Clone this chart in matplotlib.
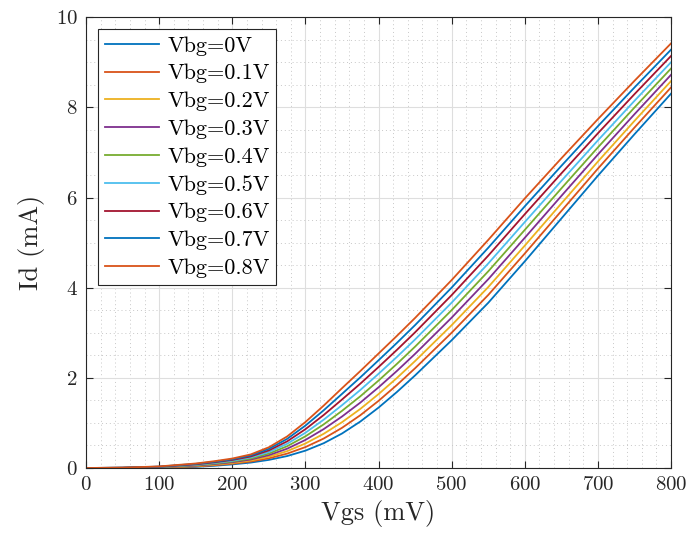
import matplotlib
matplotlib.use("Agg")
import matplotlib.pyplot as plt
from matplotlib.ticker import MultipleLocator

vgs = [0, 50, 100, 150, 175, 200, 225, 250, 275, 300, 325, 350, 375, 400,
       425, 450, 500, 550, 600, 650, 700, 750, 800]

id_vbg00 = [0, .001, .006, .025, .048, .080, .120, .180, .265, .385, .550, .765, 1.030, 1.340, 1.685, 2.055, 2.835, 3.665, 4.585, 5.535, 6.485, 7.405, 8.305]
id_vbg01 = [0, .002, .010, .034, .061, .096, .143, .215, .319, .464, .654, .891, 1.170, 1.490, 1.841, 2.214, 3.002, 3.839, 4.759, 5.702, 6.642, 7.553, 8.444]
id_vbg02 = [0, .003, .013, .044, .074, .113, .165, .250, .374, .544, .759, 1.016, 1.310, 1.640, 1.996, 2.374, 3.169, 4.014, 4.934, 5.869, 6.799, 7.701, 8.584]
id_vbg03 = [0, .004, .017, .053, .086, .129, .188, .285, .428, .623, .863, 1.142, 1.450, 1.790, 2.152, 2.533, 3.336, 4.188, 5.108, 6.036, 6.956, 7.849, 8.723]
id_vbg04 = [0, .0045, .021, .063, .099, .145, .210, .320, .483, .703, .968, 1.268, 1.590, 1.940, 2.308, 2.693, 3.503, 4.363, 5.283, 6.203, 7.113, 7.998, 8.863]
id_vbg05 = [0, .005, .024, .072, .112, .161, .233, .355, .537, .782, 1.072, 1.393, 1.730, 2.090, 2.463, 2.852, 3.669, 4.537, 5.457, 6.369, 7.269, 8.146, 9.002]
id_vbg06 = [0, .006, .028, .081, .125, .178, .255, .390, .591, .861, 1.176, 1.519, 1.870, 2.240, 2.619, 3.011, 3.836, 4.711, 5.631, 6.536, 7.426, 8.294, 9.141]
id_vbg07 = [0, .007, .031, .091, .137, .194, .278, .425, .646, .941, 1.281, 1.644, 2.010, 2.390, 2.774, 3.171, 4.003, 4.886, 5.806, 6.703, 7.583, 8.442, 9.281]
id_vbg08 = [0, .008, .035, .100, .150, .210, .300, .460, .700, 1.020, 1.385, 1.770, 2.150, 2.540, 2.930, 3.330, 4.170, 5.060, 5.980, 6.870, 7.740, 8.590, 9.420]

series = [id_vbg00, id_vbg01, id_vbg02, id_vbg03, id_vbg04,
          id_vbg05, id_vbg06, id_vbg07, id_vbg08]
labels = ["Vbg=0V", "Vbg=0.1V", "Vbg=0.2V", "Vbg=0.3V", "Vbg=0.4V",
          "Vbg=0.5V", "Vbg=0.6V", "Vbg=0.7V", "Vbg=0.8V"]
colors = ["#0072BD", "#D95319", "#EDB120", "#7E2F8E", "#77AC30",
          "#4DBEEE", "#A2142F", "#0072BD", "#D95319"]

plt.rcParams['font.family'] = ['cmr10', 'DejaVu Serif']
plt.rcParams['axes.formatter.use_mathtext'] = True

fig = plt.figure(figsize=(6.94, 5.37), dpi=100)
ax = fig.add_axes([0.124, 0.1285, 0.843, 0.8395])

for y, lab, c in zip(series, labels, colors):
    ax.plot(vgs, y, color=c, lw=1.3, label=lab)

ax.set_xlim(0, 800)
ax.set_ylim(0, 10)
ax.xaxis.set_major_locator(MultipleLocator(100))
ax.xaxis.set_minor_locator(MultipleLocator(20))
ax.yaxis.set_major_locator(MultipleLocator(2))
ax.yaxis.set_minor_locator(MultipleLocator(0.5))

ax.grid(True, which='major', color='#dedede', lw=0.8, ls='-')
ax.grid(True, which='minor', color='#c8c8c8', lw=0.7, ls=(0, (1, 3)))
ax.set_axisbelow(True)

ax.tick_params(which='major', direction='in', length=5, width=0.8,
               top=True, right=True, labelsize=15, colors='#262626', pad=6)
ax.tick_params(which='minor', length=0, top=True, right=True)
for s in ax.spines.values():
    s.set_color('#262626')
    s.set_linewidth(0.8)

ax.set_xlabel("Vgs (mV)", fontsize=19, color='#262626', labelpad=4)
ax.set_ylabel("Id (mA)", fontsize=19, color='#262626', labelpad=8)

leg = ax.legend(loc='upper left', fontsize=16, frameon=True, fancybox=False,
                edgecolor='#262626', framealpha=1, handlelength=2.45,
                borderaxespad=0.55, labelspacing=0.37, handletextpad=0.35,
                borderpad=0.3)
leg.get_frame().set_linewidth(0.8)

fig.savefig("out.png", dpi=100)
